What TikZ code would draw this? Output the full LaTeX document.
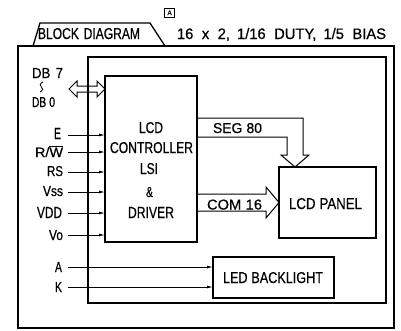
\documentclass[tikz,border=0pt]{standalone}
\usepackage{fontspec}
\setmainfont{Liberation Sans}[FakeBold=0.6]
\usetikzlibrary{arrows.meta,calc}
\tikzset{
  txt/.style={inner sep=0pt,outer sep=0pt,anchor=base west},
  box/.style={draw,line width=1.2pt,inner sep=0pt,outer sep=0pt},
  frame/.style={line width=1.3pt,line join=miter},
  sig/.style={line width=0.8pt,-{Latex[length=6pt,width=3pt]}},
  bus/.style={line width=1pt,line join=miter}
}
\newcommand{\rtxt}[6]{\node[txt] (#1) at (#2,#3) {\resizebox{#4pt}{#5pt}{#6}};}
\begin{document}
\begin{tikzpicture}[x=1pt,y=-1pt]
\useasboundingbox (0,0) rectangle (401,330);
% frames
\draw[frame] (18,46) rectangle (394,328);
\draw[frame] (33,46) -- (40,23) -- (150,23) -- (165,46);
\draw[frame] (88,57) rectangle (386,303);
% boxes
\node[box,minimum width=92pt,minimum height=166pt] (ctrl) at (151,159) {};
\node[box,minimum width=97pt,minimum height=71pt] (panel) at (327.5,202.5) {};
\node[box,minimum width=121pt,minimum height=41pt] (led) at (273.5,277.5) {};
\node[box,line width=0.7pt,minimum width=10pt,minimum height=9pt] (rev) at (169,12.5) {};
% texts
\rtxt{tBD}{38}{39}{102}{11}{BLOCK\hspace{0.4em}DIAGRAM}
\rtxt{tSpec}{177}{39}{209}{11}{16\hspace{0.3em} x\hspace{0.3em} 2,\hspace{0.2em} 1/16\hspace{0.3em} DUTY,\hspace{0.2em} 1/5\hspace{0.3em} BIAS}
\rtxt{tRev}{167.5}{15}{4.2}{4.5}{A}
\rtxt{tL1}{139}{133}{24}{11}{LCD}
\rtxt{tL2}{110}{153}{83}{11}{CONTROLLER}
\rtxt{tL3}{140}{174}{18}{11}{LSI}
\rtxt{tL4}{146}{197}{7}{10}{\&}
\rtxt{tL5}{128}{218}{46}{11}{DRIVER}
\rtxt{tPanel}{289}{209}{73}{11}{LCD\hspace{0.3em}PANEL}
\rtxt{tSeg}{213}{133}{49}{10}{SEG\hspace{0.3em}80}
\rtxt{tCom}{207}{209.5}{55}{10}{COM\hspace{0.3em}16}
\rtxt{tLed}{223}{283}{100}{11}{LED\hspace{0.3em}BACKLIGHT}
\rtxt{tDB7}{32}{78}{31}{10}{DB\hspace{0.4em}7}
\rtxt{tDB0}{32}{107}{23}{10}{DB\hspace{0.3em}0}
\rtxt{tE}{54}{139}{7}{11}{E}
\rtxt{tRW}{35}{157}{28}{12}{R/$\overline{\mbox{W}}$}
\rtxt{tRS}{47}{176}{16}{10}{RS}
\rtxt{tVss}{43}{196}{20}{10}{Vss}
\rtxt{tVdd}{37}{218}{25}{11}{VDD}
\rtxt{tVo}{49}{240}{14}{10}{Vo}
\rtxt{tA}{55}{272}{7}{10}{A}
\rtxt{tK}{55}{292}{7}{10}{K}
% squiggle between DB 7 and DB 0
\draw[line width=0.8pt] (43,82) .. controls (39.5,83.5) and (39.5,86) .. (41.4,87) .. controls (43.3,88) and (43.3,90.5) .. (40,92);
% signal lines
\foreach \n/\yy in {E/135,RW/152,RS/172,Vss/192,Vdd/213,Vo/235}{
  \coordinate (s\n) at (68,\yy);
  \draw[sig] (s\n) -- (s\n -| ctrl.west);
}
\foreach \n/\yy in {A/267,K/287}{
  \coordinate (s\n) at (68,\yy);
  \draw[sig] (s\n) -- (s\n -| led.west);
}
% DB bidirectional bus
\draw[bus] (69,89) -- (77,81) -- (77,86) -- (97,86) -- (97,81) -- (ctrl.west |- 0,89) -- (97,97) -- (97,92) -- (77,92) -- (77,97) -- cycle;
% SEG 80 bus
\draw[bus] (ctrl.east |- 0,118) -- (303,118) -- (303,155) -- (309,155) -- (panel.north -| 295,0) -- (281,155) -- (287,155) -- (287,137) -- (ctrl.east |- 0,137);
% COM 16 bus
\draw[bus] (ctrl.east |- 0,194) -- (266,194) -- (266,187) -- (panel.west) -- (266,218) -- (266,211) -- (ctrl.east |- 0,211);
\end{tikzpicture}
\end{document}
